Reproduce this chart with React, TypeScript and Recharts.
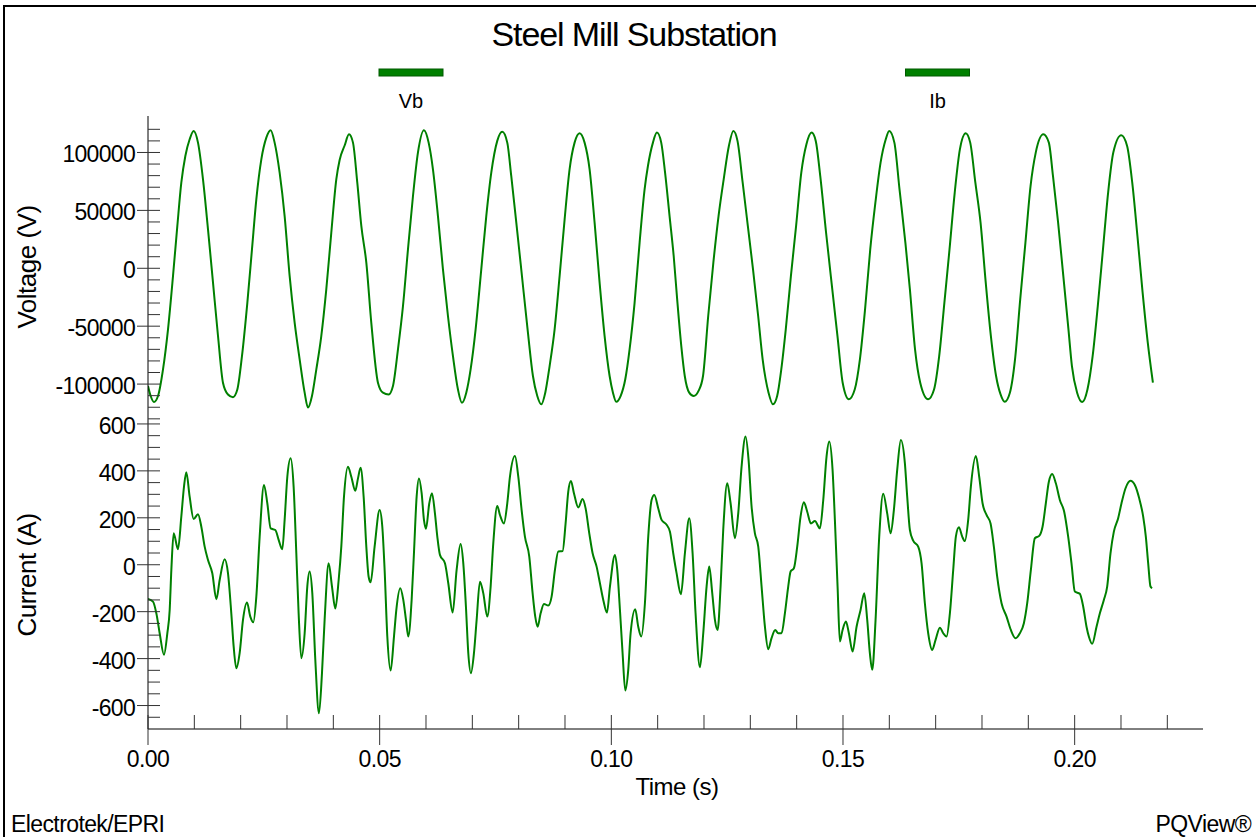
import { Line, LineChart, XAxis, YAxis } from "recharts";

// [time (s), voltage (V)]
const voltageSamples: [number, number][] = [
    [0, -101600], [0.00058, -110300], [0.00129, -115500], [0.00216, -110300], [0.00324, -87300],
    [0.00432, -52700], [0.0054, -6600], [0.00633, 36600], [0.00719, 73900], [0.00806, 97000],
    [0.00899, 111400], [0.00985, 118600], [0.01079, 108500], [0.01187, 76800], [0.01295, 33600],
    [0.01403, -12400], [0.01511, -58500], [0.01618, -98800], [0.01726, -109000], [0.01834, -111300],
    [0.01928, -104700], [0.02028, -75900], [0.02144, -29800], [0.02244, 16300], [0.02338, 59500],
    [0.02446, 94100], [0.02554, 112800], [0.02647, 119200], [0.02733, 108500], [0.02841, 82600],
    [0.02949, 45100], [0.03057, -6600], [0.03165, -46900], [0.03273, -78600], [0.03381, -107400],
    [0.03453, -120300], [0.03539, -110300], [0.03633, -87300], [0.0374, -58500], [0.03848, -18200],
    [0.03956, 30700], [0.04064, 76800], [0.04136, 93500], [0.04244, 106000], [0.04338, 115700],
    [0.04424, 108500], [0.04517, 73900], [0.04604, 36600], [0.04712, 4900], [0.04819, -46900],
    [0.04963, -98800], [0.05071, -107400], [0.05194, -108900], [0.05287, -101600], [0.05395, -70000],
    [0.05503, -32700], [0.05611, 16300], [0.05719, 62400], [0.05826, 99900], [0.05956, 119200],
    [0.06057, 108500], [0.0615, 85500], [0.06258, 45100], [0.06366, -900], [0.06474, -41200],
    [0.06582, -75900], [0.0669, -104700], [0.06776, -116200], [0.06869, -107400], [0.06963, -87300],
    [0.07071, -52700], [0.07193, -900], [0.07301, 45100], [0.07409, 82600], [0.07538, 110000],
    [0.07646, 117800], [0.07754, 108500], [0.0784, 79700], [0.07949, 39400], [0.08056, -900],
    [0.082, -55600], [0.08308, -93000], [0.08402, -110300], [0.08488, -117500], [0.08574, -107400],
    [0.08668, -84400], [0.08776, -52700], [0.08884, -6600], [0.08992, 42300], [0.09099, 85500],
    [0.09207, 108500], [0.09315, 116600], [0.09423, 108500], [0.09531, 85500], [0.09639, 39400],
    [0.09747, -12400], [0.09855, -58500], [0.09963, -93000], [0.10035, -107400], [0.10106, -115200],
    [0.102, -110300], [0.10301, -95800], [0.10394, -70000], [0.10502, -29800], [0.1061, 22000],
    [0.10718, 68100], [0.1079, 88300], [0.10898, 108500], [0.10984, 117200], [0.11077, 108500],
    [0.1116, 82600], [0.11257, 45100], [0.11346, 10600], [0.11421, -26900], [0.1151, -67200],
    [0.11585, -93000], [0.11681, -107400], [0.11778, -110300], [0.11882, -105900], [0.11979, -93000],
    [0.12091, -41200], [0.12202, 4900], [0.12314, 45100], [0.12425, 76800], [0.12537, 105600],
    [0.12634, 118600], [0.12723, 110000], [0.12835, 73900], [0.12946, 36600], [0.13058, -900],
    [0.13169, -41200], [0.13266, -78600], [0.13393, -107400], [0.13489, -117500], [0.13579, -110300],
    [0.13668, -87300], [0.13765, -52700], [0.13876, -6600], [0.13988, 36600], [0.141, 82600],
    [0.14211, 107100], [0.14323, 117200], [0.14412, 110000], [0.14509, 79700], [0.14635, 30700],
    [0.14769, -18200], [0.14881, -58500], [0.14993, -98800], [0.15127, -113100], [0.15253, -104700],
    [0.15365, -78600], [0.15476, -35500], [0.15588, 16300], [0.15699, 56600], [0.15811, 91200],
    [0.15923, 111400], [0.15997, 118600], [0.16109, 108500], [0.1622, 68100], [0.16347, 22000],
    [0.16444, -18200], [0.16555, -70000], [0.16667, -98800], [0.16838, -113100], [0.16965, -104700],
    [0.17076, -75900], [0.17188, -29800], [0.17299, 16300], [0.17411, 65200], [0.17523, 102700],
    [0.17649, 116600], [0.17746, 108500], [0.17857, 73900], [0.17969, 39400], [0.18081, -12400],
    [0.18192, -58500], [0.18304, -93000], [0.18401, -108900], [0.1849, -115200], [0.18602, -107400],
    [0.18713, -78600], [0.18825, -26900], [0.18937, 22000], [0.19048, 71000], [0.1916, 99900],
    [0.19324, 115700], [0.19443, 108500], [0.19532, 79700], [0.19643, 39400], [0.19755, -6600],
    [0.19866, -52700], [0.19941, -84400], [0.20053, -107400], [0.20164, -115500], [0.20276, -104700],
    [0.20388, -75900], [0.20499, -32700], [0.20611, 16300], [0.20722, 65200], [0.20834, 99900],
    [0.21005, 114800], [0.21132, 105600], [0.21243, 73900], [0.21355, 27800], [0.21467, -21000],
    [0.21578, -64200], [0.21689, -98800],
];

// [time (s), current (A)]
const currentSamples: [number, number][] = [
    [0, -146], [0.00108, -157], [0.0018, -207], [0.00252, -292], [0.00345, -384], [0.00417, -292],
    [0.00468, -193], [0.00504, -22], [0.00554, 134], [0.00647, 66], [0.00719, 205], [0.00777, 333],
    [0.00827, 394], [0.00899, 290], [0.00985, 195], [0.01079, 215], [0.01151, 162], [0.01223, 77],
    [0.01295, 20], [0.01388, -36], [0.01475, -147], [0.01547, -65], [0.01654, 23], [0.01726, -36],
    [0.01798, -207], [0.01849, -349], [0.01906, -441], [0.01978, -377], [0.0205, -235], [0.02136, -161],
    [0.02208, -221], [0.02273, -245], [0.02338, -136], [0.0241, 120], [0.02503, 340], [0.02575, 262],
    [0.02647, 155], [0.02748, 148], [0.0282, 106], [0.02899, 66], [0.02949, 191], [0.03007, 375],
    [0.03079, 454], [0.03143, 333], [0.03201, 49], [0.03251, -207], [0.03309, -398], [0.03381, -292],
    [0.03438, -93], [0.03489, -29], [0.03546, -121], [0.03611, -405], [0.0369, -633], [0.03755, -462],
    [0.03812, -235], [0.03899, 6], [0.03971, -93], [0.04043, -187], [0.04115, -65], [0.04172, 77],
    [0.0423, 290], [0.04316, 418], [0.04388, 375], [0.04474, 315], [0.04532, 368], [0.04589, 413],
    [0.04654, 290], [0.04712, 77], [0.04762, -51], [0.04805, -75], [0.04891, 77], [0.04999, 233],
    [0.05057, 162], [0.05107, -22], [0.05165, -306], [0.05237, -451], [0.05309, -306], [0.05359, -193],
    [0.05445, -100], [0.0551, -150], [0.05568, -235], [0.05618, -306], [0.0569, -150], [0.0574, 49],
    [0.05798, 290], [0.05848, 368], [0.05906, 305], [0.05956, 191], [0.05999, 153], [0.06071, 262],
    [0.06129, 305], [0.06193, 219], [0.06244, 120], [0.06301, 42], [0.06409, 6], [0.06481, -79],
    [0.06575, -204], [0.06661, -22], [0.06747, 88], [0.06805, 6], [0.06862, -179], [0.06913, -377],
    [0.0697, -462], [0.07035, -377], [0.07093, -235], [0.07164, -72], [0.07236, -121], [0.07323, -221],
    [0.07395, -93], [0.07452, 91], [0.07538, 250], [0.07596, 212], [0.07682, 176], [0.07754, 262],
    [0.07812, 375], [0.0792, 463], [0.07992, 375], [0.08064, 233], [0.08135, 120], [0.08229, 35],
    [0.08301, -121], [0.08358, -221], [0.08409, -264], [0.08474, -207], [0.08546, -167], [0.08639, -174],
    [0.08711, -136], [0.08783, -22], [0.08855, 56], [0.08948, 58], [0.09013, 176], [0.0907, 311],
    [0.09128, 357], [0.09193, 305], [0.09286, 244], [0.0938, 280], [0.09445, 240], [0.09524, 134],
    [0.09596, 49], [0.09682, -8], [0.09754, -79], [0.09826, -150], [0.09905, -204], [0.0997, -93],
    [0.10078, 42], [0.10128, -22], [0.10186, -193], [0.10243, -377], [0.10301, -536], [0.10365, -448],
    [0.10416, -292], [0.10516, -190], [0.10581, -264], [0.10646, -306], [0.10725, -164], [0.10797, 120],
    [0.10869, 276], [0.10927, 297], [0.11013, 240], [0.11085, 191], [0.11193, 170], [0.11265, 141],
    [0.11336, 49], [0.11408, -36], [0.11502, -126], [0.11588, 49], [0.11682, 198], [0.11754, 49],
    [0.11818, -207], [0.11912, -437], [0.11984, -292], [0.12056, -93], [0.12113, -8], [0.12178, -121],
    [0.12236, -235], [0.12293, -278], [0.12358, -93], [0.12415, 148], [0.12502, 347], [0.12574, 262],
    [0.12667, 113], [0.12739, 219], [0.12811, 418], [0.12897, 546], [0.12962, 447], [0.13027, 248],
    [0.13099, 134], [0.13171, 77], [0.13243, -93], [0.13315, -264], [0.13386, -360], [0.13458, -313],
    [0.13537, -278], [0.13602, -292], [0.13674, -292], [0.13746, -207], [0.13818, -93], [0.13869, -29],
    [0.1394, -15], [0.14012, 77], [0.14084, 205], [0.14156, 266], [0.14228, 226], [0.14307, 176],
    [0.14394, 186], [0.14502, 155], [0.14574, 276], [0.14645, 461], [0.14703, 525], [0.14775, 404],
    [0.14825, 191], [0.14883, -93], [0.14933, -327], [0.14991, -278], [0.15063, -242], [0.15127, -292],
    [0.15207, -370], [0.15293, -264], [0.15379, -193], [0.15458, -121], [0.15523, -235], [0.1558, -377],
    [0.15631, -448], [0.15703, -235], [0.15782, 120], [0.15868, 302], [0.15954, 219], [0.16027, 134],
    [0.16098, 233], [0.1617, 404], [0.16249, 532], [0.16336, 432], [0.16386, 290], [0.16444, 148],
    [0.16515, 103], [0.16623, 77], [0.16696, 6], [0.16767, -164], [0.16839, -292], [0.16925, -363],
    [0.16998, -320], [0.17091, -268], [0.17163, -292], [0.17235, -306], [0.17307, -207], [0.17379, -22],
    [0.17436, 120], [0.17501, 160], [0.17573, 120], [0.1763, 101], [0.17702, 191], [0.1776, 333],
    [0.17868, 463], [0.1794, 375], [0.18012, 262], [0.18098, 212], [0.18185, 176], [0.18256, 77],
    [0.18328, -51], [0.18422, -164], [0.1853, -221], [0.18623, -278], [0.18724, -313], [0.18817, -292],
    [0.18904, -249], [0.18976, -164], [0.19055, -22], [0.19141, 113], [0.19235, 123], [0.19307, 162],
    [0.19378, 262], [0.19443, 354], [0.19515, 387], [0.19594, 347], [0.1968, 276], [0.19774, 226],
    [0.1986, 120], [0.19932, 6], [0.20004, -114], [0.20112, -124], [0.20184, -178], [0.20256, -264],
    [0.20306, -306], [0.20378, -337], [0.20472, -264], [0.20544, -207], [0.2063, -150], [0.20702, -93],
    [0.20774, 49], [0.20846, 141], [0.20939, 198], [0.21011, 262], [0.21098, 326], [0.21206, 358],
    [0.21299, 340], [0.21393, 283], [0.21479, 205], [0.21536, 120], [0.21587, 6], [0.21637, -93],
    [0.21673, -100],
];

const timeTicks = [0, 0.01, 0.02, 0.03, 0.04, 0.05, 0.06, 0.07, 0.08, 0.09, 0.1, 0.11, 0.12, 0.13, 0.14, 0.15, 0.16, 0.17, 0.18, 0.19, 0.2, 0.21, 0.22];
const voltageTicks = [
    -130000, -120000, -110000, -100000, -90000, -80000, -70000, -60000, -50000, -40000, -30000, -20000, -10000,
    0, 10000, 20000, 30000, 40000, 50000, 60000, 70000, 80000, 90000, 100000, 110000, 120000,
];
const currentTicks = [
    -650, -600, -550, -500, -450, -400, -350, -300, -250, -200, -150, -100, -50,
    0, 50, 100, 150, 200, 250, 300, 350, 400, 450, 500, 550, 600,
];
const seriesNames = ["Vb", "Ib"];

const voltageData = voltageSamples.map(([t, v]) => ({ t, v }));
const currentData = currentSamples.map(([t, i]) => ({ t, i }));

const GREEN = "#008000";
const FONT = "'Liberation Sans', Arial, Helvetica, sans-serif";
const TIME_DOMAIN: [number, number] = [0, 0.2277];
const VOLT_DOMAIN: [number, number] = [-133600, 131500];
const AMP_DOMAIN: [number, number] = [-700, 604];

function makeYTick(majorStep: number) {
    return function YTick(props: any) {
        const { x, y, payload } = props;
        const v = payload.value as number;
        const major = v % majorStep === 0;
        return (
            <g>
                <line x1={major ? x - 11 : x} x2={x + 12} y1={y} y2={y} stroke="#333" strokeWidth={1} />
                {major && (
                    <text x={x - 13} y={y} dy={10} textAnchor="end" fontFamily={FONT} fontSize={23} letterSpacing={-0.7} fill="#000">
                        {v}
                    </text>
                )}
            </g>
        );
    };
}

const VoltTick = makeYTick(50000);
const AmpTick = makeYTick(200);

function TimeTick(props: any) {
    const { x, y, payload } = props;
    const v = payload.value as number;
    const major = Math.round(v * 100) % 5 === 0;
    return (
        <g>
            <line x1={x} x2={x} y1={y - 14} y2={major ? y + 16 : y} stroke="#333" strokeWidth={1} />
            {major && (
                <text x={x} y={y + 38} textAnchor="middle" fontFamily={FONT} fontSize={23} letterSpacing={-0.6} fill="#000">
                    {v.toFixed(2)}
                </text>
            )}
        </g>
    );
}

const frameLine = { stroke: "#000", strokeWidth: 1 };

export default function App() {
    return (
        <div style={{ position: "absolute", left: 0, top: 0, width: 1256, height: 837, background: "#fff", overflow: "hidden" }}>
            <div style={{ position: "absolute", left: 0, top: 0 }}>
                <LineChart width={1256} height={837} data={voltageData} margin={{ top: 116, right: 53, bottom: 414, left: 8 }}>
                    <XAxis xAxisId="top" orientation="top" dataKey="t" type="number" domain={TIME_DOMAIN} allowDataOverflow
                        height={0} tick={false} tickLine={false} axisLine={frameLine} />
                    <XAxis xAxisId="split" orientation="bottom" dataKey="t" type="number" domain={TIME_DOMAIN} allowDataOverflow
                        height={0} tick={false} tickLine={false} axisLine={{ stroke: "#808080", strokeWidth: 1 }} />
                    <YAxis yAxisId="v" type="number" domain={VOLT_DOMAIN} allowDataOverflow width={140} ticks={voltageTicks}
                        interval={0} tickSize={0} tickMargin={0} tickLine={false} tick={<VoltTick />} axisLine={frameLine} />
                    <YAxis yAxisId="edge" orientation="right" type="number" domain={VOLT_DOMAIN} width={0}
                        tick={false} tickLine={false} axisLine={frameLine} />
                    <Line xAxisId="top" yAxisId="v" dataKey="v" type="monotone" stroke={GREEN} strokeWidth={2}
                        dot={false} activeDot={false} isAnimationActive={false} />
                </LineChart>
            </div>
            <div style={{ position: "absolute", left: 0, top: 0 }}>
                <LineChart width={1256} height={837} data={currentData} margin={{ top: 423, right: 53, bottom: 48, left: 8 }}>
                    <XAxis dataKey="t" type="number" domain={TIME_DOMAIN} allowDataOverflow height={60} ticks={timeTicks}
                        interval={0} tickSize={0} tickMargin={0} tickLine={false} tick={<TimeTick />} axisLine={frameLine} />
                    <YAxis yAxisId="a" type="number" domain={AMP_DOMAIN} allowDataOverflow width={140} ticks={currentTicks}
                        interval={0} tickSize={0} tickMargin={0} tickLine={false} tick={<AmpTick />} axisLine={frameLine} />
                    <YAxis yAxisId="edge" orientation="right" type="number" domain={AMP_DOMAIN} width={0}
                        tick={false} tickLine={false} axisLine={frameLine} />
                    <Line yAxisId="a" dataKey="i" type="monotone" stroke={GREEN} strokeWidth={2}
                        dot={false} activeDot={false} isAnimationActive={false} />
                </LineChart>
            </div>
            <svg width={1256} height={837} style={{ position: "absolute", left: 0, top: 0, pointerEvents: "none" }} fontFamily={FONT}>
                <rect x={4} y={6} width={1262} height={840} fill="none" stroke="#000" strokeWidth={2} />
                <text x={634} y={46} textAnchor="middle" fontSize={34} letterSpacing={-1.1}>Steel Mill Substation</text>
                {seriesNames.map((name, idx) => {
                    const cx = idx === 0 ? 411 : 937.5;
                    return (
                        <g key={name}>
                            <rect x={cx - 32} y={69} width={64} height={7} fill={GREEN} stroke="#005a00" strokeWidth={1} />
                            <text x={cx} y={108} textAnchor="middle" fontSize={20}>{name}</text>
                        </g>
                    );
                })}
                <text transform="translate(36,267) rotate(-90)" textAnchor="middle" fontSize={26} letterSpacing={-0.5}>Voltage (V)</text>
                <text transform="translate(36,575) rotate(-90)" textAnchor="middle" fontSize={26} letterSpacing={-0.5}>Current (A)</text>
                <text x={677} y={795} textAnchor="middle" fontSize={24} letterSpacing={-0.5}>Time (s)</text>
                <text x={11} y={832} fontSize={23} letterSpacing={-0.6}>Electrotek/EPRI</text>
                <text x={1251} y={832} textAnchor="end" fontSize={23} letterSpacing={-0.6}>PQView®</text>
            </svg>
        </div>
    );
}
